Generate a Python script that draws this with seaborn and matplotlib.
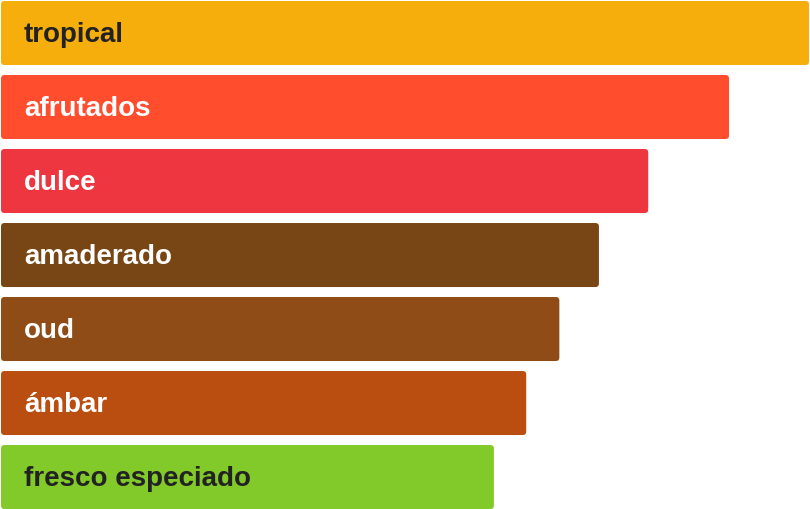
import numpy as np
import pandas as pd
import matplotlib
matplotlib.use("Agg")
import matplotlib.pyplot as plt
import seaborn as sns
from matplotlib.patches import FancyBboxPatch

categories = ["tropical", "afrutados", "dulce", "amaderado", "oud", "ámbar", "fresco especiado"]
values = [100, 90.1, 80.1, 74.0, 69.1, 65.0, 61.0]
colors = ["#F5AE0C", "#FF4D2E", "#EE3640", "#784614", "#8F4C16", "#BA4D10", "#82C92A"]
text_colors = ["#222222", "#ffffff", "#ffffff", "#ffffff", "#ffffff", "#ffffff", "#222222"]

sns.set_theme(style="white")
plt.rcParams["font.family"] = ["Liberation Sans", "DejaVu Sans"]

df = pd.DataFrame({"cat": categories, "val": values})

fig = plt.figure(figsize=(8.10, 5.09), dpi=100)
ax = fig.add_axes([0, 0, 1, 1])
sns.barplot(data=df, x="val", y="cat", hue="cat", palette=colors, orient="h",
            width=0.865, legend=False, ax=ax)

ax.set_xlim(-0.124, 100.12)
ax.set_ylim(6.432, -0.446)

# swap the square bars for rounded ones
px_x = 810 / (100.12 + 0.124)
px_y = 509 / (6.432 + 0.446)
for p, c in zip(list(ax.patches), colors):
    x0, y0 = p.get_x(), p.get_y()
    w, h = p.get_width(), p.get_height()
    p.set_visible(False)
    r = 3.5 / px_x
    fb = FancyBboxPatch((x0, y0), w, h, boxstyle=f"round,pad=0,rounding_size={r}",
                        mutation_aspect=px_x / px_y, facecolor=c, edgecolor="none")
    ax.add_patch(fb)

# labels sit inside the bars, nudged down a touch
for i, (cat, tc) in enumerate(zip(categories, text_colors)):
    ax.text(23 / px_x, i + 2 / px_y, cat, color=tc, fontsize=20, fontweight="bold",
            va="center", ha="left")

ax.set_axis_off()
fig.savefig("out.png", dpi=100)
